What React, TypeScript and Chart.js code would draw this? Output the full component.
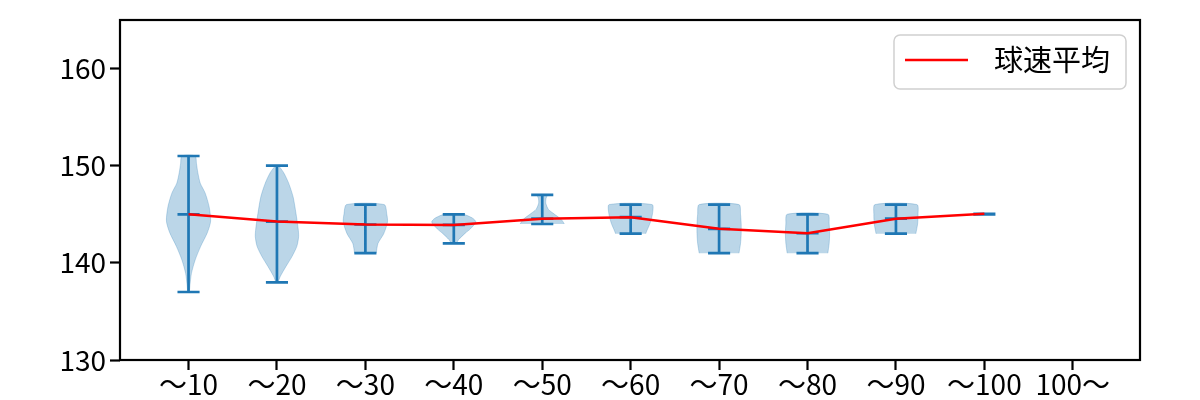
import React, { useEffect, useRef } from 'react';
import { Chart, registerables } from 'chart.js';

Chart.register(...registerables);

// ---- data ----
const categories = ['〜10', '〜20', '〜30', '〜40', '〜50', '〜60', '〜70', '〜80', '〜90', '〜100', '100〜'];
const positions = [1, 2, 3, 4, 5, 6, 7, 8, 9, 10, 11];
const meanSpeed = [145.0, 144.25, 143.95, 143.9, 144.55, 144.7, 143.5, 143.05, 144.55, 145.05];
const minSpeed = [137, 138, 141, 142, 144, 143, 141, 141, 143, 145];
const maxSpeed = [151, 150, 146, 145, 147, 146, 146, 145, 146, 145];
const yTicks = [130, 140, 150, 160];
const meanLabel = '球速平均';

// violin density profiles (speed level -> relative half-width)
const levels10 = [137, 137.6, 138.9, 140.3, 141.7, 143.1, 144.3, 145.8, 147.2, 148.2, 149.3, 150.2, 151];
const widths10 = [0.04, 0.06, 0.13, 0.3, 0.55, 0.85, 1.0, 0.93, 0.75, 0.53, 0.42, 0.36, 0.3];
const levels20 = [138, 138.6, 139.6, 140.65, 141.7, 142.7, 143.5, 145.1, 146.8, 148.2, 149.3, 150];
const widths20 = [0.05, 0.15, 0.4, 0.68, 0.9, 0.98, 0.96, 0.86, 0.73, 0.53, 0.3, 0.06];
const levels30 = [141, 142, 143, 144.2, 145, 146];
const widths30 = [0.49, 0.57, 0.83, 1.0, 0.97, 0.85];
const levels40 = [142, 142.4, 143.06, 143.5, 144.2, 144.6, 145];
const widths40 = [0.12, 0.22, 0.52, 0.75, 1.0, 0.85, 0.42];
const levels50 = [144, 144.45, 145.1, 145.5, 146.15, 146.6, 147];
const widths50 = [1.0, 0.87, 0.5, 0.28, 0.16, 0.17, 0.22];
const levels60 = [143, 143.4, 144.1, 145.1, 146];
const widths60 = [0.68, 0.75, 0.88, 0.99, 0.97];
const levels70 = [141, 142, 143, 144, 145, 146];
const widths70 = [0.9, 0.97, 1.0, 1.0, 0.97, 0.9];
const levels80 = [141, 142, 143, 144, 145];
const widths80 = [0.92, 0.98, 1.0, 0.98, 0.92];
const levels90 = [143, 144, 145, 146];
const widths90 = [0.9, 0.98, 1.0, 0.95];

const violinLevels = [levels10, levels20, levels30, levels40, levels50, levels60, levels70, levels80, levels90];
const violinWidths = [widths10, widths20, widths30, widths40, widths50, widths60, widths70, widths80, widths90];

// ---- style ----
const FONT = '"Noto Sans CJK JP", "Noto Sans", sans-serif';
const C0 = '#1f77b4';
const VIOLIN_HALF = 0.25;
const CAP_HALF = 0.125;

const framePlugin = {
  id: 'frame',
  afterDatasetsDraw(chart: any) {
    const { ctx, chartArea: a } = chart;
    ctx.save();
    ctx.strokeStyle = '#000';
    ctx.lineWidth = 2.2;
    ctx.strokeRect(a.left, a.top, a.right - a.left, a.bottom - a.top);
    ctx.restore();
  },
};

const legendPlugin = {
  id: 'boxLegend',
  afterDraw(chart: any) {
    const { ctx, chartArea: a } = chart;
    const ds = chart.data.datasets.find((d: any) => d.label === meanLabel);
    if (!ds) return;
    ctx.save();
    ctx.font = `29px ${FONT}`;
    const tw = ctx.measureText(ds.label).width;
    const padL = 11, handleLen = 63, gap = 26, padR = 16;
    const w = padL + handleLen + gap + tw + padR;
    const h = 54;
    const right = a.right - 14;
    const top = a.top + 15;
    const left = right - w;
    ctx.beginPath();
    ctx.roundRect(left, top, w, h, 6);
    ctx.fillStyle = 'rgba(255,255,255,0.8)';
    ctx.fill();
    ctx.strokeStyle = '#d0d0d0';
    ctx.lineWidth = 1.5;
    ctx.stroke();
    const cy = top + 25;
    ctx.beginPath();
    ctx.moveTo(left + padL, cy);
    ctx.lineTo(left + padL + handleLen, cy);
    ctx.strokeStyle = ds.borderColor;
    ctx.lineWidth = ds.borderWidth;
    ctx.stroke();
    ctx.fillStyle = '#000';
    ctx.textBaseline = 'middle';
    ctx.textAlign = 'left';
    ctx.fillText(ds.label, left + padL + handleLen + gap, cy);
    ctx.restore();
  },
};

export default function App() {
  const ref = useRef<HTMLCanvasElement>(null);

  useEffect(() => {
    document.body.style.margin = '0';
    const datasets: any[] = [];

    // mean line
    datasets.push({
      label: meanLabel,
      data: meanSpeed.map((m, i) => ({ x: positions[i], y: m })),
      borderColor: 'red',
      borderWidth: 2.5,
      pointRadius: 0,
      fill: false,
      tension: 0,
      order: 0,
    });

    // stems and caps
    const caps: any[] = [];
    minSpeed.forEach((mn, i) => {
      const p = positions[i];
      const mx = maxSpeed[i];
      const mean = meanSpeed[i];
      caps.push({ x: p, y: mn }, { x: p, y: mx }, { x: p, y: null });
      caps.push({ x: p - CAP_HALF, y: mn }, { x: p + CAP_HALF, y: mn }, { x: p, y: null });
      caps.push({ x: p - CAP_HALF, y: mx }, { x: p + CAP_HALF, y: mx }, { x: p, y: null });
      caps.push({ x: p - CAP_HALF, y: mean }, { x: p + CAP_HALF, y: mean }, { x: p, y: null });
    });
    datasets.push({
      label: 'caps',
      data: caps,
      borderColor: C0,
      borderWidth: 2.7,
      borderCapStyle: 'butt',
      pointRadius: 0,
      fill: false,
      spanGaps: false,
      tension: 0,
      order: 1,
    });

    // violin bodies
    violinLevels.forEach((lv, i) => {
      const wd = violinWidths[i];
      const p = positions[i];
      const pts: any[] = [];
      lv.forEach((v, k) => pts.push({ x: p + VIOLIN_HALF * wd[k], y: v }));
      for (let k = lv.length - 1; k >= 0; k--) pts.push({ x: p - VIOLIN_HALF * wd[k], y: lv[k] });
      datasets.push({
        label: 'violin' + i,
        data: pts,
        backgroundColor: 'rgba(31,119,180,0.3)',
        borderColor: 'rgba(31,119,180,0.25)',
        borderWidth: 1,
        pointRadius: 0,
        fill: 'shape',
        tension: 0.25,
        order: 2,
      });
    });

    const gridCfg = {
      display: true,
      drawOnChartArea: false,
      drawTicks: true,
      tickLength: 10,
      tickWidth: 2.2,
      tickColor: '#000',
    };

    const chart = new Chart(ref.current as HTMLCanvasElement, {
      type: 'line',
      data: { datasets },
      options: {
        responsive: false,
        animation: false,
        events: [],
        layout: { padding: { top: 20, right: 60, left: 0, bottom: 0 } },
        plugins: { legend: { display: false }, tooltip: { enabled: false } },
        scales: {
          x: {
            type: 'linear',
            min: 0.225,
            max: 11.76,
            afterBuildTicks: (s: any) => {
              s.ticks = positions.map((v) => ({ value: v }));
            },
            afterFit: (s: any) => {
              s.height = 40;
            },
            ticks: {
              autoSkip: false,
              maxRotation: 0,
              padding: 0,
              color: '#000',
              font: { family: FONT, size: 28, lineHeight: 1.0 },
              callback: (v: any) => {
                const idx = positions.indexOf(Number(v));
                return idx >= 0 ? categories[idx] : '';
              },
            },
            grid: gridCfg,
            border: { display: false },
          },
          y: {
            type: 'linear',
            min: 130,
            max: 165,
            afterBuildTicks: (s: any) => {
              s.ticks = yTicks.map((v) => ({ value: v }));
            },
            afterFit: (s: any) => {
              s.width = 120;
            },
            ticks: {
              padding: 4,
              color: '#000',
              font: { family: FONT, size: 28, lineHeight: 1.0 },
            },
            grid: gridCfg,
            border: { display: false },
          },
        },
      } as any,
      plugins: [framePlugin, legendPlugin],
    });
    return () => chart.destroy();
  }, []);

  return (
    <div style={{ position: 'absolute', left: 0, top: 0, width: 1200, height: 400 }}>
      <canvas ref={ref} width={1200} height={400} style={{ display: 'block' }} />
    </div>
  );
}
